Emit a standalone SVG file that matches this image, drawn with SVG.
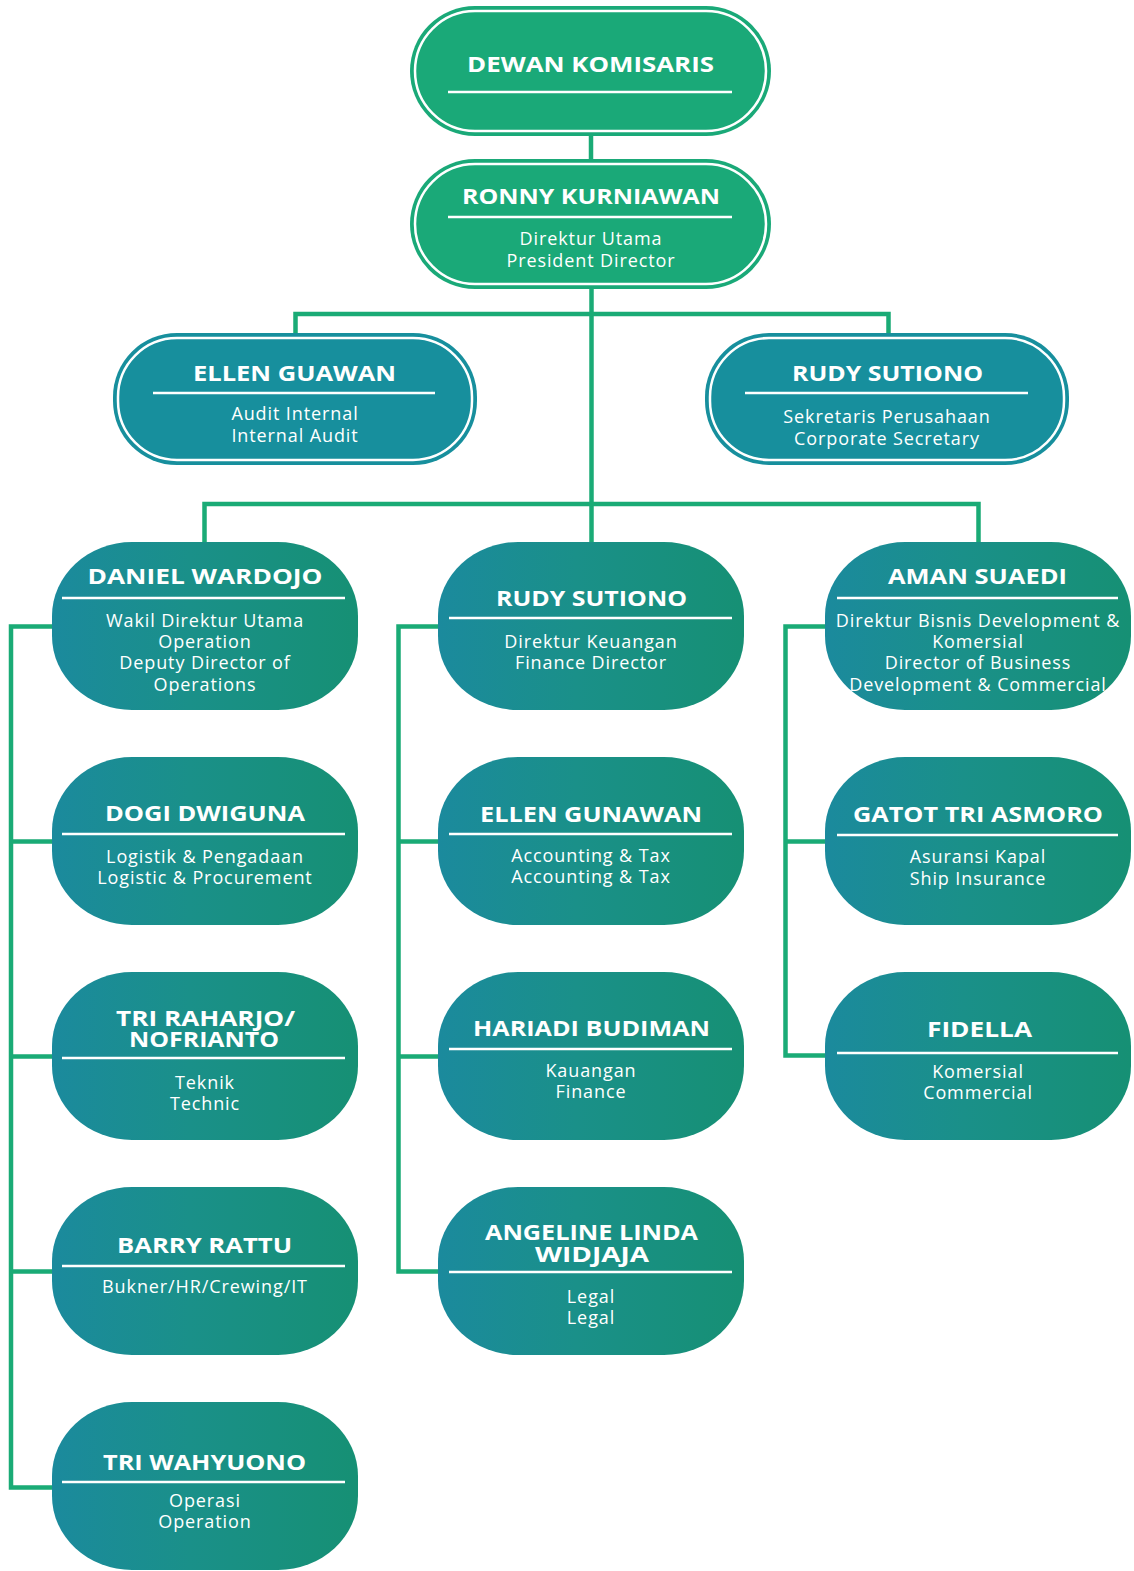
<svg xmlns="http://www.w3.org/2000/svg" width="1134" height="1571" viewBox="0 0 1134 1571">
<defs>
<linearGradient id="g" x1="0" y1="0" x2="1" y2="0">
<stop offset="0" stop-color="#1b8a9d"/>
<stop offset="0.45" stop-color="#1a9089"/>
<stop offset="1" stop-color="#169074"/>
</linearGradient>
<style>
.t{font-family:"Open Sans","Noto Sans","Liberation Sans",sans-serif;font-weight:700;font-size:22px;fill:#fff;text-anchor:middle}
.s{font-family:"Open Sans","Noto Sans","Liberation Sans",sans-serif;font-size:18px;fill:#fff;text-anchor:middle;letter-spacing:0.9px}
.ul{stroke:#fff;stroke-width:2.5}
.c{stroke:#1aab76;stroke-width:4.5;fill:none}
.top{fill:#1aa978}
.stf{fill:#178f9d}
.ring{fill:none;stroke:#fff;stroke-width:2.5}
.box{fill:url(#g)}
</style>
</defs>
<rect width="1134" height="1571" fill="#fff"/>
<g id="connectors">
<path class="c" d="M591 135V160"/>
<path class="c" d="M591.5 289V542"/>
<path class="c" d="M295.5 334V314H888.5V334"/>
<path class="c" d="M204.5 542V504H978.5V542"/>
<path class="c" d="M52 626.5H11V1487.5H52M11 841.5H52M11 1056.5H52M11 1271.5H52"/>
<path class="c" d="M438 626.5H398.5V1271.5H438M398.5 841.5H438M398.5 1056.5H438"/>
<path class="c" d="M825 626.5H785.5V1055.5H825M785.5 841.5H825"/>
</g>
<g id="dewan">
<rect class="top" x="410" y="6" width="361" height="130" rx="65"/>
<rect class="ring" x="415" y="11" width="351" height="120" rx="60"/>
<text class="t" x="590.5" y="72" textLength="247" lengthAdjust="spacingAndGlyphs">DEWAN KOMISARIS</text>
<line class="ul" x1="448" y1="92" x2="732" y2="92"/>
</g>
<g id="ronny">
<rect class="top" x="410" y="159" width="361" height="130" rx="65"/>
<rect class="ring" x="415" y="164" width="351" height="120" rx="60"/>
<text class="t" x="591" y="204" textLength="258" lengthAdjust="spacingAndGlyphs">RONNY KURNIAWAN</text>
<line class="ul" x1="448" y1="217" x2="732" y2="217"/>
<text class="s" x="591" y="245">Direktur Utama</text>
<text class="s" x="591" y="267">President Director</text>
</g>
<g id="ellen-guawan">
<rect class="stf" x="113" y="333" width="364" height="132" rx="64"/>
<rect class="ring" x="118" y="338" width="354" height="122" rx="59"/>
<text class="t" x="294.5" y="381" textLength="203" lengthAdjust="spacingAndGlyphs">ELLEN GUAWAN</text>
<line class="ul" x1="153" y1="393" x2="435" y2="393"/>
<text class="s" x="295" y="420">Audit Internal</text>
<text class="s" x="295" y="442">Internal Audit</text>
</g>
<g id="rudy-sekretaris">
<rect class="stf" x="705" y="333" width="364" height="132" rx="64"/>
<rect class="ring" x="710" y="338" width="354" height="122" rx="59"/>
<text class="t" x="887.5" y="381" textLength="191" lengthAdjust="spacingAndGlyphs">RUDY SUTIONO</text>
<line class="ul" x1="745" y1="393" x2="1028" y2="393"/>
<text class="s" x="887" y="423">Sekretaris Perusahaan</text>
<text class="s" x="887" y="445">Corporate Secretary</text>
</g>
<g id="daniel">
<rect class="box" x="52" y="542" width="306" height="168" rx="80" ry="74"/>
<text class="t" x="205" y="584" textLength="235" lengthAdjust="spacingAndGlyphs">DANIEL WARDOJO</text>
<line class="ul" x1="62" y1="598" x2="345" y2="598"/>
<text class="s" x="205" y="627">Wakil Direktur Utama</text>
<text class="s" x="205" y="648">Operation</text>
<text class="s" x="205" y="669">Deputy Director of</text>
<text class="s" x="205" y="691">Operations</text>
</g>
<g id="dogi">
<rect class="box" x="52" y="757" width="306" height="168" rx="80" ry="74"/>
<text class="t" x="205" y="821" textLength="200" lengthAdjust="spacingAndGlyphs">DOGI DWIGUNA</text>
<line class="ul" x1="62" y1="834" x2="345" y2="834"/>
<text class="s" x="205" y="863">Logistik &amp; Pengadaan</text>
<text class="s" x="205" y="884">Logistic &amp; Procurement</text>
</g>
<g id="tri-raharjo">
<rect class="box" x="52" y="972" width="306" height="168" rx="80" ry="74"/>
<text class="t"><tspan x="205.5" y="1026" textLength="179" lengthAdjust="spacingAndGlyphs">TRI RAHARJO/</tspan><tspan x="204" y="1047" textLength="150" lengthAdjust="spacingAndGlyphs">NOFRIANTO</tspan></text>
<line class="ul" x1="62" y1="1058" x2="345" y2="1058"/>
<text class="s" x="205" y="1089">Teknik</text>
<text class="s" x="205" y="1110">Technic</text>
</g>
<g id="barry">
<rect class="box" x="52" y="1187" width="306" height="168" rx="80" ry="74"/>
<text class="t" x="204.5" y="1253" textLength="175" lengthAdjust="spacingAndGlyphs">BARRY RATTU</text>
<line class="ul" x1="62" y1="1266" x2="345" y2="1266"/>
<text class="s" x="205" y="1293">Bukner/HR/Crewing/IT</text>
</g>
<g id="tri-wahyuono">
<rect class="box" x="52" y="1402" width="306" height="168" rx="80" ry="74"/>
<text class="t" x="204.5" y="1470" textLength="203" lengthAdjust="spacingAndGlyphs">TRI WAHYUONO</text>
<line class="ul" x1="62" y1="1482" x2="345" y2="1482"/>
<text class="s" x="205" y="1507">Operasi</text>
<text class="s" x="205" y="1528">Operation</text>
</g>
<g id="rudy-keuangan">
<rect class="box" x="438" y="542" width="306" height="168" rx="80" ry="74"/>
<text class="t" x="591.5" y="606" textLength="191" lengthAdjust="spacingAndGlyphs">RUDY SUTIONO</text>
<line class="ul" x1="449" y1="618" x2="732" y2="618"/>
<text class="s" x="591" y="648">Direktur Keuangan</text>
<text class="s" x="591" y="669">Finance Director</text>
</g>
<g id="ellen-gunawan">
<rect class="box" x="438" y="757" width="306" height="168" rx="80" ry="74"/>
<text class="t" x="591" y="822" textLength="222" lengthAdjust="spacingAndGlyphs">ELLEN GUNAWAN</text>
<line class="ul" x1="449" y1="834" x2="732" y2="834"/>
<text class="s" x="591" y="862">Accounting &amp; Tax</text>
<text class="s" x="591" y="883">Accounting &amp; Tax</text>
</g>
<g id="hariadi">
<rect class="box" x="438" y="972" width="306" height="168" rx="80" ry="74"/>
<text class="t" x="591.5" y="1036" textLength="237" lengthAdjust="spacingAndGlyphs">HARIADI BUDIMAN</text>
<line class="ul" x1="449" y1="1049" x2="732" y2="1049"/>
<text class="s" x="591" y="1077">Kauangan</text>
<text class="s" x="591" y="1098">Finance</text>
</g>
<g id="angeline">
<rect class="box" x="438" y="1187" width="306" height="168" rx="80" ry="74"/>
<text class="t"><tspan x="591.5" y="1240" textLength="213" lengthAdjust="spacingAndGlyphs">ANGELINE LINDA</tspan><tspan x="592" y="1262" textLength="114" lengthAdjust="spacingAndGlyphs">WIDJAJA</tspan></text>
<line class="ul" x1="449" y1="1272" x2="732" y2="1272"/>
<text class="s" x="591" y="1303">Legal</text>
<text class="s" x="591" y="1324">Legal</text>
</g>
<g id="aman">
<rect class="box" x="825" y="542" width="306" height="168" rx="80" ry="74"/>
<text class="t" x="977.5" y="584" textLength="179" lengthAdjust="spacingAndGlyphs">AMAN SUAEDI</text>
<line class="ul" x1="837" y1="598" x2="1118" y2="598"/>
<text class="s" x="978" y="627">Direktur Bisnis Development &amp;</text>
<text class="s" x="978" y="648">Komersial</text>
<text class="s" x="978" y="669">Director of Business</text>
<text class="s" x="978" y="691">Development &amp; Commercial</text>
</g>
<g id="gatot">
<rect class="box" x="825" y="757" width="306" height="168" rx="80" ry="74"/>
<text class="t" x="978" y="822" textLength="250" lengthAdjust="spacingAndGlyphs">GATOT TRI ASMORO</text>
<line class="ul" x1="837" y1="835" x2="1118" y2="835"/>
<text class="s" x="978" y="863">Asuransi Kapal</text>
<text class="s" x="978" y="885">Ship Insurance</text>
</g>
<g id="fidella">
<rect class="box" x="825" y="972" width="306" height="168" rx="80" ry="74"/>
<text class="t" x="979.5" y="1037" textLength="105" lengthAdjust="spacingAndGlyphs">FIDELLA</text>
<line class="ul" x1="837" y1="1053" x2="1118" y2="1053"/>
<text class="s" x="978" y="1078">Komersial</text>
<text class="s" x="978" y="1099">Commercial</text>
</g>
</svg>
